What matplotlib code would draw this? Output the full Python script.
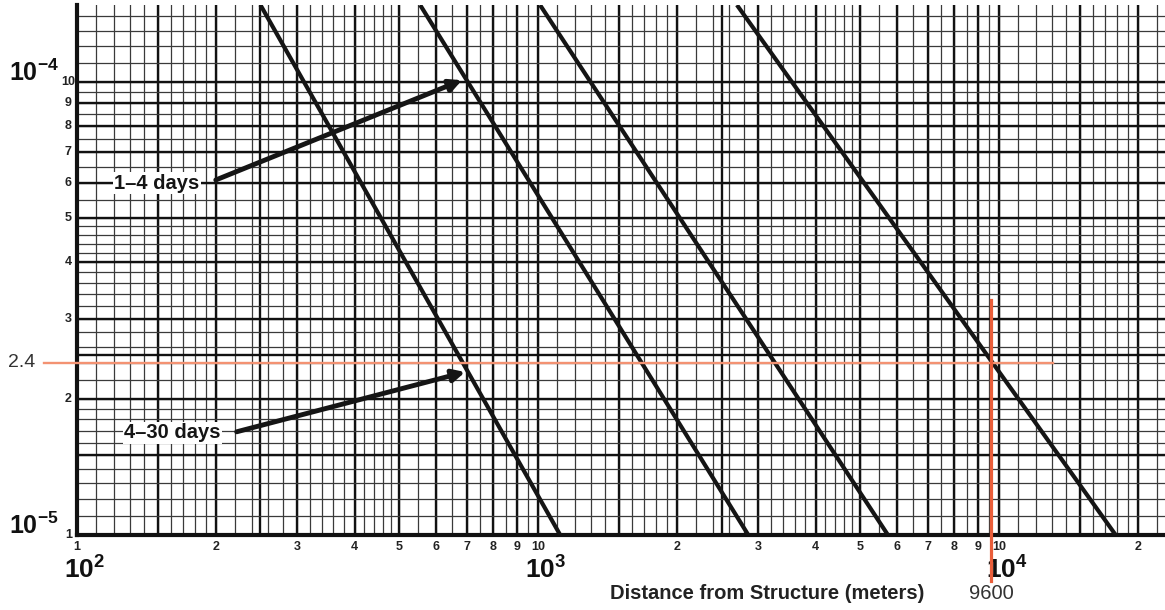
import numpy as np
import matplotlib
matplotlib.use("Agg")
import matplotlib.pyplot as plt
from matplotlib.ticker import NullLocator

plt.rcParams['font.family'] = ['Liberation Sans', 'DejaVu Sans']
plt.rcParams['mathtext.fontset'] = 'custom'
plt.rcParams['mathtext.bf'] = 'Liberation Sans:bold'
plt.rcParams['mathtext.rm'] = 'Liberation Sans'

# the four diagonal curves (distance in m)
curve_top_x = [250, 555, 1010, 2700]
curve_bottom_x = [1117, 2858, 5740, 17900]
curve_top_y = 1.48e-4
curve_bottom_y = 1e-5

# reading marked in red
ref_conc = 2.4e-5
ref_dist = 9600

# tick labels printed on the paper
x_label_pos = [100, 200, 300, 400, 500, 600, 700, 800, 900, 1000,
               2000, 3000, 4000, 5000, 6000, 7000, 8000, 9000, 10000, 20000]
x_label_txt = ['1', '2', '3', '4', '5', '6', '7', '8', '9', '10',
               '2', '3', '4', '5', '6', '7', '8', '9', '10', '2']
y_label_pos = [1e-5, 2e-5, 3e-5, 4e-5, 5e-5, 6e-5, 7e-5, 8e-5, 9e-5, 1e-4]
y_label_txt = ['1', '2', '3', '4', '5', '6', '7', '8', '9', '10']
x_decades = [2, 3, 4]
y_decades = [-5, -4]

# graph paper rulings inside one decade
major_mult = [1, 1.5, 2, 2.5, 3, 4, 5, 6, 7, 8, 9]
minor_mult = np.concatenate([np.arange(1.0, 2.0, 0.1),
                             np.arange(2.0, 5.0, 0.2),
                             np.arange(5.0, 10.0, 0.5)])

fig = plt.figure(figsize=(11.65, 6.1), dpi=100)
ax = fig.add_axes([77 / 1165, 75 / 610, 1088 / 1165, 530 / 610])
ax.set_xscale('log')
ax.set_yscale('log')
xmin, xmax = 100, 22900
ax.set_xlim(xmin, xmax)
ax.set_ylim(curve_bottom_y, curve_top_y)

# grid of the paper
for dec in [1e2, 1e3, 1e4]:
    for m in minor_mult:
        v = dec * m
        if v < xmax:
            ax.axvline(v, color='#3a3a3a', lw=0.9, zorder=1)
    for m in major_mult:
        v = dec * m
        if v < xmax:
            ax.axvline(v, color='#111111', lw=1.7, zorder=1)
for dec in [1e-5, 1e-4]:
    for m in minor_mult:
        v = dec * m
        if v < curve_top_y:
            ax.axhline(v, color='#3a3a3a', lw=0.9, zorder=1)
    for m in major_mult:
        v = dec * m
        if v < curve_top_y:
            ax.axhline(v, color='#111111', lw=1.7, zorder=1)

for xt, xb in zip(curve_top_x, curve_bottom_x):
    ax.plot([xt, xb], [curve_top_y, curve_bottom_y], color='#151515',
            lw=3, zorder=3, solid_capstyle='butt')

for s in ['top', 'right']:
    ax.spines[s].set_visible(False)
for s in ['left', 'bottom']:
    ax.spines[s].set_linewidth(3)
    ax.spines[s].set_color('#111111')
ax.xaxis.set_major_locator(NullLocator())
ax.xaxis.set_minor_locator(NullLocator())
ax.yaxis.set_major_locator(NullLocator())
ax.yaxis.set_minor_locator(NullLocator())

# printed labels
xtr = ax.get_xaxis_transform()
ytr = ax.get_yaxis_transform()
for p, t in zip(x_label_pos, x_label_txt):
    ax.text(p, -0.022, t, transform=xtr, ha='center', va='center',
            fontsize=9, fontweight='bold', color='#222222')
for d in x_decades:
    ax.text(10.0 ** d * 1.04, -0.066, r'$\mathbf{10^{%d}}$' % d, transform=xtr,
            ha='center', va='center', fontsize=19, color='#111111')
for p, t in zip(y_label_pos, y_label_txt):
    ax.text(-0.008, p, t, transform=ytr, ha='center', va='center',
            fontsize=9, fontweight='bold', color='#222222')
for d in y_decades:
    ax.text(-0.017, 10.0 ** d * 1.05, r'$\mathbf{10^{%d}}$' % d, transform=ytr,
            ha='right', va='center', fontsize=18, color='#111111')

ax.text(0.634, -0.111, 'Distance from Structure (meters)', transform=ax.transAxes,
        ha='center', va='center', fontsize=14.5, fontweight='bold', color='#222222')

# red reading lines
ax.plot([85, 13100], [ref_conc, ref_conc], color='#f39272', lw=1.7,
        clip_on=False, zorder=4)
ax.plot([ref_dist, ref_dist], [3.3e-5, 7.9e-6], color='#ea5e3a', lw=2.3,
        clip_on=False, zorder=4)
ax.text(-0.0506, ref_conc, '2.4', transform=ytr, ha='center', va='center',
        fontsize=14, color='#333333')
ax.text(ref_dist, -0.111, '9600', transform=xtr, ha='center', va='center',
        fontsize=14.5, color='#333333')

# arrows to the curves
arrow_style = dict(arrowstyle='-|>', lw=3.5, color='#151515',
                   mutation_scale=18, shrinkA=0, shrinkB=0)
ax.annotate('', xy=(684, 1.01e-4), xytext=(200, 6.08e-5), arrowprops=arrow_style,
            zorder=5)
ax.annotate('', xy=(695, 2.29e-5), xytext=(222, 1.69e-5), arrowprops=arrow_style,
            zorder=5)
ax.text(149, 5.98e-5, '1–4 days', ha='center', va='center', fontsize=14.5,
        fontweight='bold', color='#151515', zorder=6,
        bbox=dict(fc='white', ec='none', pad=1))
ax.text(161, 1.68e-5, '4–30 days', ha='center', va='center', fontsize=14.5,
        fontweight='bold', color='#151515', zorder=6,
        bbox=dict(fc='white', ec='none', pad=1))

fig.savefig('out.png', dpi=100)
